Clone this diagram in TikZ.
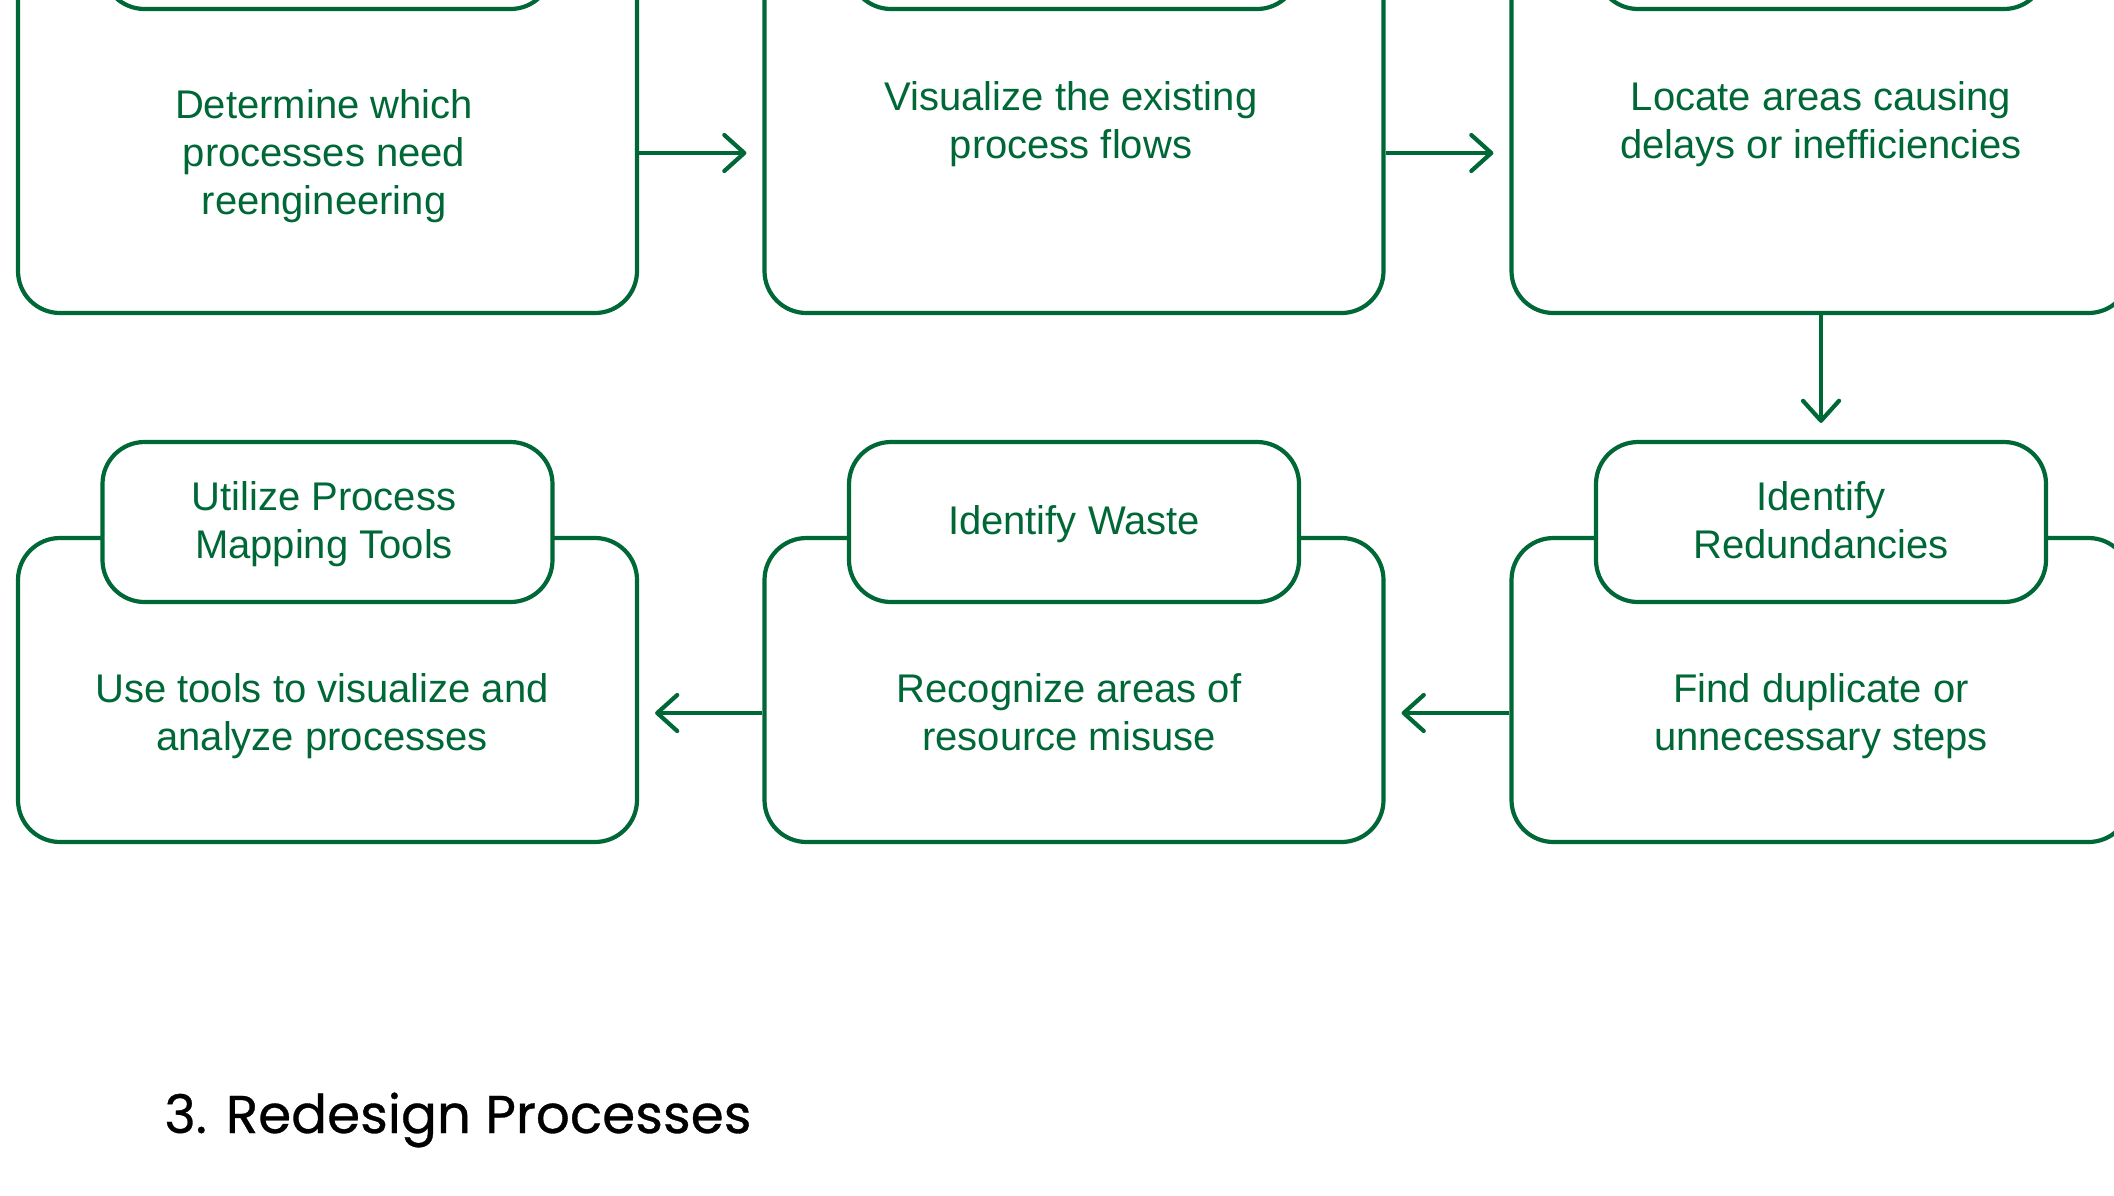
\documentclass[tikz,border=0pt]{standalone}
\usepackage{fontspec}
\setmainfont{Liberation Sans}
\newfontfamily\titlefont[FakeBold=0.6]{Poppins}
\usetikzlibrary{arrows.meta}
\definecolor{dgreen}{RGB}{0,104,55}
\begin{document}
\begin{tikzpicture}[x=0.5pt,y=-0.5pt,
  outer/.style={draw=dgreen, line width=2.1pt, rounded corners=21pt, fill=white, minimum width=309.5pt, inner sep=0pt},
  lab/.style={draw=dgreen, line width=2.1pt, rounded corners=21pt, fill=white, minimum width=225pt, minimum height=80pt, inner sep=0pt},
  txt/.style={text=dgreen, align=center, inner sep=0pt, font=\fontsize{20pt}{24pt}\selectfont},
  arr/.style={draw=dgreen, line width=2.1pt, -{Straight Barb[length=10pt,width=18pt,round]}}
]
\useasboundingbox (0,0) rectangle (2114,1195);
\clip (0,0) rectangle (2114,1195);
% top row
\node[outer, minimum height=184pt] (b1) at (327.5,129) {};
\node[outer, minimum height=184pt] (b2) at (1074,129) {};
\node[outer, minimum height=184pt] (b3) at (1821,129) {};
\node[lab] (l1) at (327.5,-71) {};
\node[lab] (l2) at (1074,-71) {};
\node[lab] (l3) at (1821,-71) {};
% bottom row
\node[outer, minimum height=152pt] (b4) at (327.5,690) {};
\node[outer, minimum height=152pt] (b5) at (1074,690) {};
\node[outer, minimum height=152pt] (b6) at (1821,690) {};
\node[lab] (l4) at (327.5,522) {};
\node[lab] (l5) at (1074,522) {};
\node[lab] (l6) at (1821,522) {};
% texts
\node[txt] (t1) at (324,156) {Determine which\\processes need\\reengineering};
\node[txt] (t2) at (1071,124) {Visualize the existing\\process flows};
\node[txt] (t3) at (1821,124) {Locate areas causing\\delays or inefficiencies};
\node[txt] (t4) at (324,524) {Utilize Process\\Mapping Tools};
\node[txt] (t5) at (1074,524) {Identify Waste};
\node[txt] (t6) at (1821,520) {Identify\\Redundancies};
\node[txt] (t7) at (322,716) {Use tools to visualize and\\analyze processes};
\node[txt] (t8) at (1069,712) {Recognize areas of\\resource misuse};
\node[txt] (t9) at (1821,716) {Find duplicate or\\unnecessary steps};
% arrows
\draw[arr] ([yshift=-12pt]b1.east) -- ([yshift=-12pt,xshift=-8pt]b2.west);
\draw[arr] ([yshift=-12pt]b2.east) -- ([yshift=-12pt,xshift=-8pt]b3.west);
\draw[arr] (b3.south) -- ([yshift=8.5pt]l6.north);
\draw[arr] ([yshift=-11.5pt]b6.west) -- ([yshift=-11.5pt,xshift=8pt]b5.east);
\draw[arr] ([yshift=-11.5pt]b5.west) -- ([yshift=-11.5pt,xshift=8pt]b4.east);
% title
\node[anchor=base west, inner sep=0pt, font=\titlefont\fontsize{26.6pt}{30pt}\selectfont] (title) at (164,1133) {3. Redesign Processes};
\end{tikzpicture}
\end{document}
